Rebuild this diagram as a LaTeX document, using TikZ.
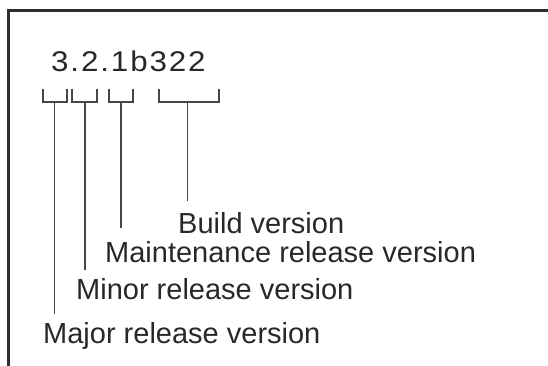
\documentclass[tikz,border=0pt]{standalone}
\usepackage{fontspec}
\setmainfont{Liberation Sans}
\usetikzlibrary{positioning}
\definecolor{FrameGray}{RGB}{45,45,45}
\definecolor{LineGray}{RGB}{70,70,70}
\definecolor{TextGray}{RGB}{40,40,40}

\begin{document}
\begin{tikzpicture}[x=1pt,y=-1pt,
    lbl/.style={anchor=base west,inner sep=0pt,text=TextGray,
      font=\fontsize{29}{34}\selectfont},
    stem/.style={LineGray,line width=1.3pt}]
      \useasboundingbox (0,0) rectangle (548,366);
      \draw[FrameGray,line width=3pt] (8.5,366) |- (548,10.5);
      % version string, wide and loosely spaced
      \node[lbl,font=\fontsize{28.5}{34}\selectfont\addfontfeature{LetterSpace=6}]
        (ver) at (51,72) {\scalebox{1.1}[1]{3.2.1b322}};
      % labels
      \node[lbl] (build) at (178,233) {Build version};
      \node[lbl] (maint) at (105,262) {Maintenance release version};
      \node[lbl] (minor) at (76,299) {Minor release version};
      \node[lbl] (major) at (43,343) {Major release version};
      % brackets under the parts
      \draw[stem] (43,89) |- (67,102) -- (67,89);
      \draw[stem] (72,89) |- (97,102) -- (97,89);
      \draw[stem] (109,89) |- (133,102) -- (133,89);
      \draw[stem] (159,89) |- (219,102) -- (219,89);
      \coordinate (b1) at (54.5,102);
      \coordinate (b2) at (85,102);
      \coordinate (b3) at (121,102);
      \coordinate (b4) at (187.5,102);
      \draw[stem,shorten >=8pt] (b1) -- (b1 |- major.north);
      \draw[stem,shorten >=8pt] (b2) -- (b2 |- minor.north);
      \draw[stem,shorten >=13pt] (b3) -- (b3 |- maint.north);
      \draw[stem,shorten >=11pt] (b4) -- (b4 |- build.north);
    \end{tikzpicture}
\end{document}
